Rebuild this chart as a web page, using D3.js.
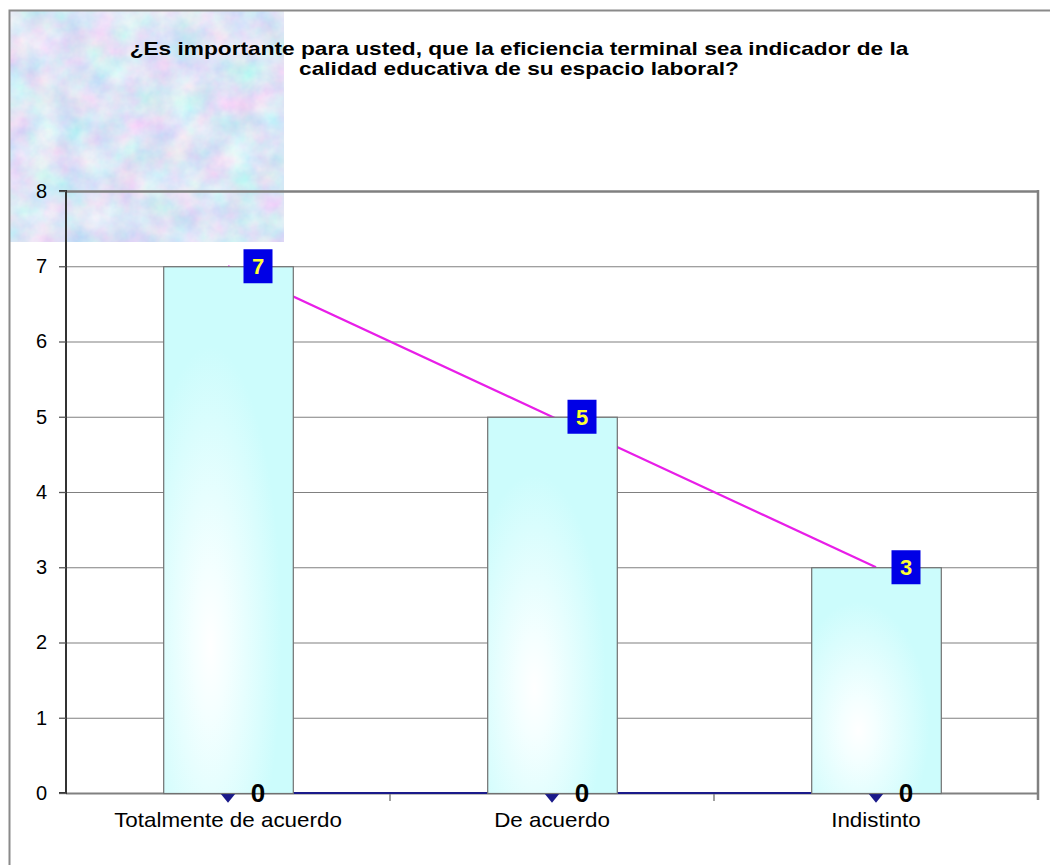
<!DOCTYPE html>
<html>
<head>
<meta charset="utf-8">
<script src="https://cdn.jsdelivr.net/npm/d3@7"></script>
<style>
  html, body { margin: 0; padding: 0; background: #fff; }
  svg { display: block; }
  text { font-family: "Liberation Sans", Arial, sans-serif; }
</style>
</head>
<body>
<div id="chart"></div>
<script>
// ---- data ----
const titleLines = ["¿Es importante para usted, que la eficiencia terminal sea indicador de la",
                    "calidad educativa de su espacio laboral?"];
const categories = ["Totalmente de acuerdo", "De acuerdo", "Indistinto"];
const barValues = [7, 5, 3];
const lineValues = [7, 5, 3];
const zeroValues = [0, 0, 0];
const yTicks = [0, 1, 2, 3, 4, 5, 6, 7, 8];

const W = 1050, H = 865;
const svg = d3.select("#chart").append("svg").attr("width", W).attr("height", H);
const defs = svg.append("defs");

// texture filter
const f = defs.append("filter").attr("id", "marble").attr("x", 0).attr("y", 0).attr("width", 1).attr("height", 1);
f.append("feTurbulence").attr("type", "fractalNoise").attr("baseFrequency", 0.035).attr("numOctaves", 4).attr("seed", 11).attr("result", "n");
f.append("feColorMatrix").attr("in", "n").attr("type", "matrix")
  .attr("values", "0.6 0 0 0 0.42  0 0.45 0 0 0.56  0 0 0.15 0 0.84  0 0 0 0 1");

// bar gradient
const g = defs.append("radialGradient").attr("id", "barGrad")
  .attr("cx", 0.36).attr("cy", 0.7).attr("r", 0.55).attr("fx", 0.36).attr("fy", 0.72);
g.append("stop").attr("offset", "0%").attr("stop-color", "#ffffff");
g.append("stop").attr("offset", "25%").attr("stop-color", "#f4ffff");
g.append("stop").attr("offset", "100%").attr("stop-color", "#ccfcfc");

// texture patch
svg.append("rect").attr("x", 10).attr("y", 10).attr("width", 274).attr("height", 232)
  .attr("fill", "#c8d8f0").attr("filter", "url(#marble)");

// outer frame (extends off canvas right/bottom)
svg.append("rect").attr("x", 9.5).attr("y", 10.5).attr("width", W + 20).attr("height", H + 20)
  .attr("fill", "none").attr("stroke", "#8a8a8a").attr("stroke-width", 2);

const L = 66, R = 1038, T = 191, B = 793;
const x = d3.scaleBand().domain(categories).range([L, R]).paddingInner(0.6).paddingOuter(0.3);
const y = d3.scaleLinear().domain([0, 8]).range([B, T]);
const cx = c => x(c) + x.bandwidth() / 2;

// gridlines
svg.append("g").selectAll("line").data(yTicks.filter(t => t > 0)).join("line")
  .attr("x1", L).attr("x2", R).attr("y1", d => y(d) + 0.5).attr("y2", d => y(d) + 0.5)
  .attr("stroke", "#808080").attr("stroke-width", d => d === 8 ? 2.5 : 1.2);

// right border of plot
svg.append("line").attr("x1", R).attr("x2", R).attr("y1", T - 1).attr("y2", B + 7)
  .attr("stroke", "#808080").attr("stroke-width", 2.5);

// baseline (gray)
svg.append("line").attr("x1", L).attr("x2", R).attr("y1", B + 0.5).attr("y2", B + 0.5)
  .attr("stroke", "#808080").attr("stroke-width", 2);

// category tick marks
const bounds = [0, 1, 2, 3].map(i => L + i * x.step());
svg.append("g").selectAll("line").data(bounds.slice(1, 3)).join("line")
  .attr("x1", d => d).attr("x2", d => d).attr("y1", B).attr("y2", B + 8)
  .attr("stroke", "#808080").attr("stroke-width", 1.5);

// magenta line series (behind bars)
const lineGen = d3.line().x((d, i) => cx(categories[i])).y(d => y(d));
svg.append("path").datum(lineValues).attr("d", lineGen)
  .attr("fill", "none").attr("stroke", "#e81ee8").attr("stroke-width", 2.2);

// zero series (navy) with diamond markers
svg.append("path").datum(zeroValues).attr("d", lineGen)
  .attr("fill", "none").attr("stroke", "#1a1a8a").attr("stroke-width", 2.2);
const diamond = d3.symbol().type(d3.symbolDiamond).size(90);
svg.append("g").selectAll("path").data(zeroValues).join("path")
  .attr("d", diamond)
  .attr("transform", (d, i) => `translate(${cx(categories[i])},${y(d) + 1}) scale(1.4,1)`)
  .attr("fill", "#1a1a8a");

// bars
svg.append("g").selectAll("rect").data(barValues).join("rect")
  .attr("x", (d, i) => x(categories[i]) + 0.5)
  .attr("y", d => y(d) + 0.5)
  .attr("width", x.bandwidth())
  .attr("height", d => y(0) - y(d))
  .attr("fill", "url(#barGrad)")
  .attr("stroke", "#707070").attr("stroke-width", 1.2);

// left axis
const yAxis = d3.axisLeft(y).tickValues(yTicks).tickSize(7).tickPadding(12).tickFormat(d3.format("d"));
const ya = svg.append("g").attr("transform", `translate(${L},0)`).call(yAxis);
ya.attr("font-size", null).attr("font-family", null);
ya.select(".domain").attr("stroke", "#333").attr("stroke-width", 2).attr("d", `M-7,${T}H0V${B}H-7`);
ya.selectAll(".tick line").attr("stroke", "#555").attr("stroke-width", 1.3);
ya.selectAll(".tick text").style("font-size", "20px").attr("fill", "#000")
  .style("font-family", "'Liberation Sans', Arial, sans-serif");

// x labels
svg.append("g").selectAll("text").data(categories).join("text")
  .attr("x", d => cx(d)).attr("y", B + 34)
  .attr("text-anchor", "middle").style("font-size", "20px").attr("fill", "#000")
  .attr("transform", d => `translate(${cx(d)},0) scale(1.12,1) translate(${-cx(d)},0)`)
  .text(d => d);

// value labels (blue boxes)
const lab = svg.append("g").selectAll("g").data(barValues).join("g")
  .attr("transform", (d, i) => `translate(${cx(categories[i]) + 30},${y(d)})`);
lab.append("rect").attr("x", -14.5).attr("y", -17).attr("width", 29).attr("height", 34).attr("fill", "#0000e6");
lab.append("text").attr("text-anchor", "middle").attr("dy", "0.36em")
  .style("font-size", "22px").attr("font-weight", "bold").attr("fill", "#ffff33").text(d => d);

// zero labels
svg.append("g").selectAll("text").data(zeroValues).join("text")
  .attr("x", (d, i) => cx(categories[i]) + 30).attr("y", d => y(d))
  .attr("dy", "0.36em").attr("text-anchor", "middle")
  .style("font-size", "26px").attr("font-weight", "bold").attr("fill", "#000").text(d => d);

// title (source image is horizontally stretched)
svg.append("g").selectAll("text").data(titleLines).join("text")
  .attr("x", 519).attr("y", (d, i) => 55 + i * 20)
  .attr("text-anchor", "middle").style("font-size", "18px").attr("font-weight", "bold").attr("fill", "#000")
  .attr("transform", "translate(519,0) scale(1.26,1) translate(-519,0)")
  .text(d => d);
</script>
</body>
</html>
